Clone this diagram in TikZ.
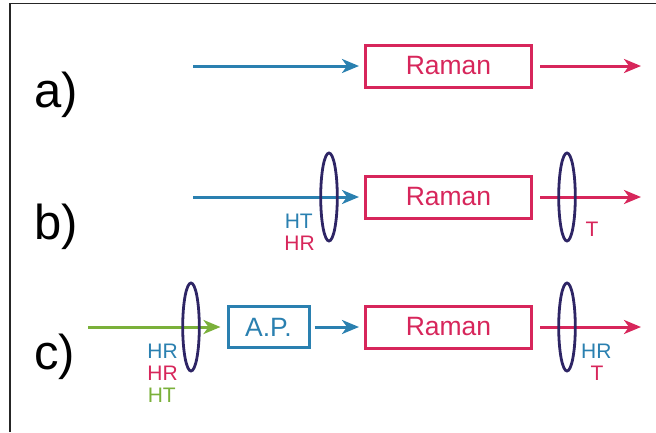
\documentclass[tikz,border=0pt]{standalone}
\usepackage{fontspec}
\setmainfont{Liberation Sans}
\usetikzlibrary{arrows.meta}
\definecolor{cblue}{HTML}{2A80B0}
\definecolor{cred}{HTML}{D7265B}
\definecolor{cgreen}{HTML}{7AB03A}
\definecolor{cnavy}{HTML}{2E2565}
\tikzset{
  ramanbox/.style={draw=cred, line width=3pt, minimum width=166pt, minimum height=42pt, inner sep=0pt, text=cred, font=\fontsize{26.5}{26.5}\selectfont},
  apbox/.style={draw=cblue, line width=3pt, minimum width=81pt, minimum height=41pt, inner sep=0pt, text=cblue, font=\fontsize{26.5}{26.5}\selectfont},
  beam/.style={line width=3pt, -{Stealth[length=17pt, width=14pt, inset=5pt]}},
  lens/.style={draw=cnavy, line width=2.8pt},
  rowlabel/.style={font=\fontsize{49}{49}\selectfont, anchor=base west, inner sep=0pt},
  pol/.style={font=\fontsize{21}{21}\selectfont, inner sep=0pt}
}
\begin{document}
\begin{tikzpicture}[x=1pt,y=-1pt]
\useasboundingbox (0,0) rectangle (656,432);
% frame
\draw[line width=1.4pt, black!85] (10,432) -- (10,3.5) -- (656,3.5);
% row labels
\node[rowlabel] (la) at (34,107) {a)};
\node[rowlabel] (lb) at (34,239) {b)};
\node[rowlabel] (lc) at (34,369) {c)};
% row a
\node[ramanbox] (ra) at (448.5,66) {Raman};
\coordinate (ina) at (193,66);
\coordinate (outa) at (641,66);
\draw[beam, cblue, shorten >=5pt] (ina) -- (ra.west);
\draw[beam, cred, shorten <=7pt] (ra.east) -- (outa);
% row b
\node[ramanbox] (rb) at (448.5,197) {Raman};
\coordinate (inb) at (193,197);
\coordinate (outb) at (641,197);
\draw[beam, cblue, shorten >=5pt] (inb) -- (rb.west);
\draw[beam, cred, shorten <=7pt] (rb.east) -- (outb);
\draw[lens] (329,197) ellipse [x radius=8.3pt, y radius=44pt];
\draw[lens] (567,197) ellipse [x radius=8.3pt, y radius=44pt];
\node[pol, text=cblue, anchor=base east] (bht) at (313,228) {HT};
\node[pol, text=cred, anchor=base east] (bhr) at (315,250) {HR};
\node[pol, text=cred, anchor=base] (bt) at (592,236) {T};
% row c
\node[ramanbox] (rc) at (448.5,327) {Raman};
\node[apbox] (ap) at (268.5,327) {A.P.};
\coordinate (inc) at (88,327);
\coordinate (outc) at (641,327);
\draw[beam, cgreen, shorten >=6pt] (inc) -- (ap.west);
\draw[beam, cblue, shorten >=5pt, shorten <=4pt] (ap.east) -- (rc.west);
\draw[beam, cred, shorten <=7pt] (rc.east) -- (outc);
\draw[lens] (191,327) ellipse [x radius=8.3pt, y radius=44pt];
\draw[lens] (567,327) ellipse [x radius=8.3pt, y radius=44pt];
\node[pol, text=cblue, anchor=base east] (chr1) at (178,358) {HR};
\node[pol, text=cred, anchor=base east] (chr2) at (178,380) {HR};
\node[pol, text=cgreen, anchor=base east] (cht) at (176,402) {HT};
\node[pol, text=cblue, anchor=base west] (chr3) at (581,358) {HR};
\node[pol, text=cred, anchor=base] (ct) at (597,380) {T};
\end{tikzpicture}
\end{document}
